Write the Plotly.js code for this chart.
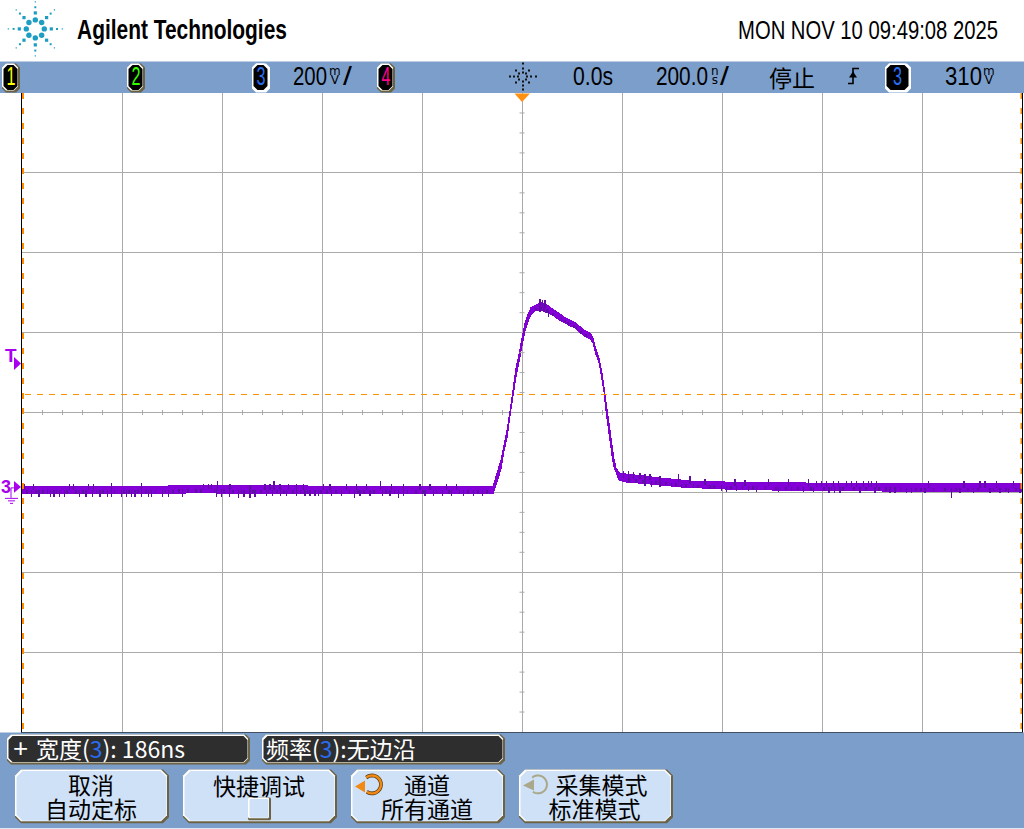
<!DOCTYPE html>
<html><head><meta charset="utf-8">
<script src="https://cdn.plot.ly/plotly-3.0.1.min.js"></script>
<style>html,body{margin:0;padding:0;background:#fff;overflow:hidden}
.scatterlayer path{shape-rendering:crispEdges}
</style>
</head><body><div id="chart" style="width:1024px;height:829px"></div>
<script>
// ---- waveform: time in ns, level in mV above channel 3 ground ----
const bandTime = [-1000,-804,-644,-444,-244,-58,-54,-48,-42,-36,-30,-24,-18,-12,-6,0,6,12,18,26,36,46,56,66,76,86,96,106,116,126,136,142,148,154,160,164,168,172,176,180,184,188,194,206,236,276,316,356,396,476,556,656,856,1000];
const bandHigh = [1.5,1,3,1.5,1.5,1.5,17.5,37.5,67.5,105,142.5,190,247,297,333,372,410,433,449,454,461,459,449,441,433,424,418,411,401,391,386,372,345,322,285,248,215,170,132,95,70,48,35,32.5,27.5,22.5,17.5,12.5,12.5,10,10,7.5,7.5,7.5];
const bandLow = [-17,-17,-15,-17,-17,-17,-2.5,22,44,90,122,178,229,276,313,354,391,414,431,441,443,438,433,426,416,411,403,398,386,376,371,361,331,311,269,237,190,152,108,78,49,36,17.5,12.5,10,5,0,-2.5,-5,-7.5,-9,-10,-11,-11];

const spikeUpTime = [-996,-977,-905,-897,-867,-857,-821,-761,-637,-627,-621,-609,-584,-544,-514,-504,-496,-484,-467,-451,-437,-397,-384,-351,-331,-311,-283,-261,-237,-204,-184,-151,-131,36,41,46,203,213,223,236,246,256,276,313,336,366,426,446,493,533,573,589,599,609,623,633,649,659,669,683,693,699,709,813,884,916,926,949,983];
const spikeUpTip = [7.5,7.5,7.5,7.5,7.5,7.5,10,10,7.5,7.5,7.5,15,7.5,5,7.5,7.5,15,7.5,7.5,7.5,7.5,7.5,7.5,7.5,7.5,7.5,15,7.5,7.5,7.5,7.5,7.5,7.5,470,467,467,40,40,38,35,32,32,27,32,27,20,20,17,20,20,20,15,15,15,15,15,15,15,15,15,15,15,15,15,15,15,15,15,15];
const spikeDownTime = [-981,-966,-943,-936,-925,-915,-885,-872,-859,-844,-829,-821,-801,-791,-781,-774,-761,-747,-741,-719,-707,-679,-611,-601,-585,-567,-556,-544,-534,-511,-499,-483,-471,-451,-434,-424,-414,-407,-381,-361,-335,-324,-304,-279,-264,-247,-237,-194,-177,-159,-141,-117,-97,-79,36,44,53,75,86,96,109,246,259,276,299,319,343,376,399,409,429,453,469,513,539,563,583,614,625,636,676,706,736,746,769,779,806,859,876,903,936,956,973,996];
const spikeDownTip = [-25,-25,-25,-25,-25,-25,-25,-25,-25,-25,-25,-25,-25,-25,-25,-25,-25,-25,-25,-25,-25,-25,-25,-25,-25,-27,-26,-27,-25,-22,-22,-22,-22,-22,-22,-22,-22,-22,-22,-22,-27,-22,-22,-22,-22,-27,-22,-22,-22,-22,-22,-22,-22,-22,437,437,425,425,412,407,395,2,0,0,0,-3,-3,-5,-10,-12,-10,-10,-12,-12,-10,-12,-12,-15,-15,-15,-15,-15,-15,-15,-15,-15,-15,-27,-15,-15,-15,-15,-15,-15];
// darker columns visible inside the trace band
const darkColumnTime = [-990,-972,-958,-949,-931,-910,-892,-878,-851,-838,-815,-796,-786,-768,-752,-733,-713,-698,-686,-668,-652,-642,-615,-596,-578,-561,-538,-522,-507,-490,-476,-458,-443,-429,-402,-390,-372,-345,-328,-316,-296,-272,-255,-229,-212,-198,-171,-146,-125,-108,-88,-70,28,38,50,62,79,92,104,118,128,214,228,242,268,288,308,328,352,384,418,441,462,487,508,528,552,578,604,619,642,664,688,714,728,757,788,798,823,846,868,892,912,943,968,988];

const triggerLevelLine = 231.25;   // dashed trigger cursor, mV on this scale
const timeCursors = [-1000, 1000]; // dashed time cursors, ns

// ---- text ----
const brandText = 'Agilent Technologies';
const dateText = 'MON NOV 10 09:49:08 2025';
const channelNames = ['1','2','3','4'];
const channelColors = ['#ffff00','#33ff00','#2a6cf0','#ff0090'];
const buttonLabels = [['取消','自动定标'],['快捷调试',''],['通道','所有通道'],['采集模式','标准模式']];

// ---- page geometry helpers (decor only, in page pixels) ----
const W=1024,H=829,L=22,R=1022,T=92.5,B=732.5;
const px=x=>(x-L)/(R-L), py=y=>(B-y)/(B-T);
const blue='#7c9ecb', olive='#6b6344';
const shapes=[], ann=[], narrow=[], twoLine=[];
function rect(x0,y0,x1,y1,fill,layer){shapes.push({type:'rect',xref:'paper',yref:'paper',x0:px(x0),x1:px(x1),y0:py(y0),y1:py(y1),fillcolor:fill,line:{width:0},layer:layer||'above'});}
function line(x0,y0,x1,y1,c,w,dash){shapes.push({type:'line',xref:'paper',yref:'paper',x0:px(x0),x1:px(x1),y0:py(y0),y1:py(y1),line:{color:c,width:w||1,dash:dash||'solid'},layer:'above'});}
function poly(pts,fill){shapes.push({type:'path',xref:'paper',yref:'paper',path:'M'+pts.map(p=>px(p[0])+','+py(p[1])).join('L')+'Z',fillcolor:fill,line:{width:0},layer:'above'});}
function open(pts,c,w){shapes.push({type:'path',xref:'paper',yref:'paper',path:'M'+pts.map(p=>px(p[0])+','+py(p[1])).join('L'),line:{color:c,width:w},layer:'above'});}
function rr(x0,y0,x1,y1,r,fill){const s=r*0.5;poly([[x0+r,y0],[x1-r,y0],[x1-s,y0+s],[x1,y0+r],[x1,y1-r],[x1-s,y1-s],[x1-r,y1],[x0+r,y1],[x0+s,y1-s],[x0,y1-r],[x0,y0+r],[x0+s,y0+s]],fill);}
function panel(x0,y0,x1,y1,r,fill,tl,br){rr(x0,y0,x1,y1,r,br||olive);rr(x0,y0,x1-2,y1-2,r,tl||'#ffffff');rr(x0+1.5,y0+1.5,x1-2.5,y1-2.5,r,fill);}
const SANS='"Liberation Sans",sans-serif', CJK='"Noto Sans CJK SC",sans-serif', DEJA='"DejaVu Sans",sans-serif';
function text(t,x,y,size,color,anchor,family,weight){ann.push({text:t,xref:'paper',yref:'paper',x:px(x),y:py(y),xanchor:anchor||'center',yanchor:'middle',showarrow:false,borderpad:0,font:{size:size,color:color||'#000',family:family||SANS,weight:weight||'normal'}});return ann.length-1;}
// single-line text condensed to the reference's narrow face: real text, fitted to [left, left+width]
function fit(t,left,width,y,size,color,weight){narrow.push({i:text(t,left+width/2,y,size,color,'center',SANS,weight),left:left,width:width});}
function arc(cx,cy,r,from,to){const pts=[];for(let a=from;a<=to;a+=15)pts.push([cx+r*Math.cos(a*Math.PI/180),cy+r*Math.sin(a*Math.PI/180)]);return pts;}

// header and footer
rect(0,61,W,92.5,blue);
rect(0,733,W,H,blue);

// logo
const lc='#1c9dc1', LX=35.3, LY=28.3;
for(let i=0;i<8;i++){
  const a=i*Math.PI/4,c=Math.cos(a),s=Math.sin(a),cx=(r)=>LX+r*c,cy=(r)=>LY+r*s;
  shapes.push({type:'circle',xref:'paper',yref:'paper',x0:px(cx(9)-2.7),x1:px(cx(9)+2.7),y0:py(cy(9)-2.7),y1:py(cy(9)+2.7),fillcolor:lc,line:{width:0},layer:'above'});
  rect(cx(16)-1.6,cy(16)-1.6,cx(16)+1.6,cy(16)+1.6,lc);
  rect(cx(21.7)-1,cy(21.7)-1,cx(21.7)+1,cy(21.7)+1,lc);
  rect(cx(27)-.6,cy(27)-.6,cx(27)+.6,cy(27)+.6,lc);
}
fit(brandText,77,210,29,27,'#000','bold');
fit(dateText,738,260,29,26,'#000');

// channel badges
[[2,20],[127,145],[252,270],[377,395]].forEach((b,i)=>{
  panel(b[0],63,b[1],92,4,'#000','#ffffff',i===2?'#ffffff':olive);
  fit(channelNames[i],b[0]+4.5,9,75.5,25,channelColors[i]);
});
panel(885,63,911,92,4,'#000','#ffffff','#ffffff');
fit('3',893,9,75.5,25,channelColors[2]);

function unit(x,top,bot){twoLine.push({i:text(top+'<br>'+bot,x,78.8,12,'#000','center',DEJA),dx:[0,0],dy:9});}
fit('200',293,34,75.5,25); unit(335,'m','V'); fit('/',343,9,75.5,25);
fit('0.0s',573,40,75.5,25);
fit('200.0',656,52,75.5,25); unit(715,'n','s'); fit('/',720,9,75.5,25);
text('停止',792,76,23,'#000','center',CJK);
fit('310',945,37,75.5,25); unit(989,'m','V');

// acquisition star
const SX=522.5,SY=76;
for(let i=0;i<8;i++){
  const a=i*Math.PI/4,c=Math.cos(a),s=Math.sin(a);
  [4.5,8.5,13].forEach((r,k)=>{ if(k<2||i%2===0) rect(Math.round(SX+r*c)-1,Math.round(SY+r*s)-1,Math.round(SX+r*c)+1,Math.round(SY+r*s)+1,'#111'); });
}
// trigger edge glyph
open([[848,83],[853,83],[853,68],[859,68]],'#000',1.6);
poly([[849,77],[857,77],[853,71]],'#000');

// graticule decor: centre ticks
for(let x=22.5;x<1022;x+=20){ if((x-22.5)%100) line(x,410,x,415,'#aaaaaa',1); }
for(let y=92.5;y<732;y+=20){ if((y-92.5)%80) line(519.5,y,524.5,y,'#aaaaaa',1); }

// orange cursors (through data axes)
shapes.push({type:'line',xref:'x',yref:'y',x0:-994,x1:1000,y0:triggerLevelLine,y1:triggerLevelLine,line:{color:'#ff9000',width:1,dash:'6px,6px'},layer:'above'});
timeCursors.forEach((t,i)=>shapes.push({type:'line',xref:'x',yref:'y',x0:t+(i?-1:2),x1:t+(i?-1:2),y0:986,y1:-613,line:{color:'#ff8a00',width:2,dash:'6px,9px'},layer:'above'}));
// top trigger triangle
poly([[514.5,93],[530,93],[522,101.5]],'#ff9010');

// purple side markers
const mc='#a800ee';
text('T',11,355,19,mc,'center',SANS,'bold');
poly([[14,357],[21,363.5],[14,370]],mc);
text('3',5.5,487,18,mc,'center',SANS,'bold');
poly([[14,481],[21,487],[14,493]],mc);
open([[14,488],[11,488],[11,498]],mc,1);
line(5,498.5,18,498.5,mc,1); line(8,501,15,501,mc,1); line(10,503.5,13,503.5,mc,1);

// measurement boxes
panel(7,735,250,765,4,'#2e2e2e');
panel(262,735,505,765,4,'#2e2e2e');
text('+',20.5,749,26,'#fff','center',SANS);
text('宽度(<span style="color:#2a6cf0">3</span>): 186ns',35,749,23,'#fff','left',CJK);
text('频率(<span style="color:#2a6cf0">3</span>):无边沿',265,749,23,'#fff','left',CJK);

// softkeys
const keyBoxes=[[15,169],[183,337],[351,505],[519,673]];
const keyCentres=[91,258.5,427,598];
keyBoxes.forEach((b,i)=>{
  panel(b[0],770,b[1],824,6,'#cfe1f7');
  const cx = keyCentres[i];
  if(buttonLabels[i][1]){
    const k=text(buttonLabels[i][0]+'<br>'+buttonLabels[i][1],cx,800,23,'#000','center',CJK);
    twoLine.push({i:k,dx:i===3?[3.5,-3.5]:[0,0],dy:24});
  } else text(buttonLabels[i][0],cx,786,23,'#000','center',CJK);
});
// checkbox
panel(248,798,271,821,1,'#cfe1f7','#ffffff',olive);
// entry-knob arrows
open(arc(372,785,9,-130,130),'#5a3a10',3.8);
open(arc(372,785,9,-130,130),'#f08a14',2.4);
poly([[355,787],[365,781],[365,793]],'#f08a14');
open(arc(538,785,9,-130,130),'#a9a88a',2);
poly([[523,786],[534,780],[534,791]],'#a9a88a');

// ---- marks through the library's scales ----
function baseAt(t){let i=0;while(i<bandTime.length-2&&bandTime[i+1]<t)i++;const f=(t-bandTime[i])/(bandTime[i+1]-bandTime[i]);return [bandHigh[i]+f*(bandHigh[i+1]-bandHigh[i]),bandLow[i]+f*(bandLow[i+1]-bandLow[i])];}
const spikeX=[],spikeY=[];
spikeUpTime.forEach((t,i)=>{const b=baseAt(t);spikeX.push(t,t,null);spikeY.push((b[0]+b[1])/2,spikeUpTip[i],null);});
spikeDownTime.forEach((t,i)=>{const b=baseAt(t);spikeX.push(t,t,null);spikeY.push((b[0]+b[1])/2,spikeDownTip[i],null);});
darkColumnTime.forEach(t=>{const b=baseAt(t);spikeX.push(t,t,null);spikeY.push(b[1],(b[0]+b[1])/2,null);});

const traces=[
 {x:bandTime,y:bandLow,mode:'lines',line:{color:'#8000d0',width:1},hoverinfo:'skip',showlegend:false},
 {x:bandTime,y:bandHigh,mode:'lines',line:{color:'#8000d0',width:1},fill:'tonexty',fillcolor:'#8400d8',hoverinfo:'skip',showlegend:false},
 {x:spikeX,y:spikeY,mode:'lines',line:{color:'#5e0ea2',width:1.6},connectgaps:false,hoverinfo:'skip',showlegend:false}
];
const layout={
 width:W,height:H,margin:{l:L,r:W-R,t:T,b:H-B,pad:0},showlegend:false,
 paper_bgcolor:'#fff',plot_bgcolor:'#fff',
 xaxis:{range:[-1000,1000],tick0:-1000,dtick:200,showgrid:true,gridcolor:'#aaaaaa',gridwidth:1,zeroline:false,showticklabels:false,ticks:'',showline:true,mirror:true,linecolor:'#000',linewidth:1,fixedrange:true},
 yaxis:{range:[-613.75,986.25],tick0:-13.75,dtick:200,showgrid:true,gridcolor:'#aaaaaa',gridwidth:1,zeroline:false,showticklabels:false,ticks:'',showline:true,mirror:true,linecolor:'#000',linewidth:1,fixedrange:true},
 shapes:shapes,annotations:ann
};
Plotly.newPlot('chart',traces,layout,{displayModeBar:false,staticPlot:true}).then(gd=>{
  const nodes=gd.querySelectorAll('.annotation');
  const byIdx=i=>[...nodes].find(n=>+n.getAttribute('data-index')===i);
  narrow.forEach(n=>{
    const g=byIdx(n.i), t=g.querySelector('text');
    const r=t.getBoundingClientRect(), bb=t.getBBox();
    const sx=n.width/r.width, off=r.left-bb.x;
    const e=n.left-off-sx*bb.x;
    const tf='translate('+e+',0) scale('+sx+',1)';
    t.setAttribute('transform',tf);
    const bg=g.querySelector('rect.bg');
    if(bg){bg.setAttribute('x',bb.x);bg.setAttribute('width',bb.width);bg.setAttribute('transform',tf);}
  });
  twoLine.forEach(n=>{
    const ls=byIdx(n.i).querySelectorAll('tspan.line');
    ls.forEach((l,k)=>{l.setAttribute('dx',n.dx[k]);});
    if(ls[1]) ls[1].setAttribute('dy',n.dy);
  });
});
</script></body></html>
